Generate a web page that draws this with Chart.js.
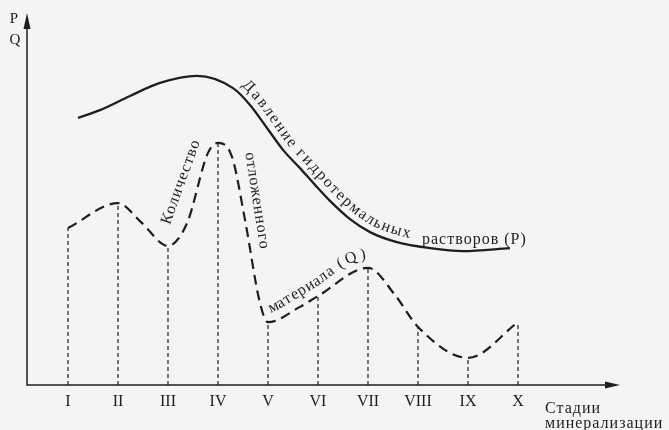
<!DOCTYPE html>
<html>
<head>
<meta charset="utf-8">
<script src="https://cdn.jsdelivr.net/npm/chart.js@4"></script>
<style>
  body { margin: 0; background: #f4f4f2; }
  canvas { display: block; }
</style>
</head>
<body>
<canvas id="myChart" width="669" height="430"></canvas>
<script>
// stages of mineralization (x = 1..10)
var stages = ['I', 'II', 'III', 'IV', 'V', 'VI', 'VII', 'VIII', 'IX', 'X'];
// Q - amount of deposited material, value at each stage
var qStage = [42.2, 48.9, 37.4, 65.1, 16.9, 23.9, 31.5, 15.6, 7.3, 16.9];
// extra points (bends)
var qBendX = [2.46, 3.38, 3.8, 4.28, 4.54, 4.84, 5.64, 7.54];
var qBendY = [43.8, 43.5, 62.4, 61.3, 44.4, 22.0, 21.0, 24.2];
// P - pressure of hydrothermal solutions
var pX = [1.2, 1.64, 2.24, 2.84, 3.58, 4.3, 4.64, 4.98, 5.3, 5.64, 5.94, 6.24, 6.64, 7.04, 7.58, 8.24, 8.9, 9.84];
var pY = [71.8, 73.9, 77.7, 81.2, 83.1, 79.8, 75.3, 69.1, 63.2, 58.3, 53.8, 49.5, 44.6, 41.1, 38.4, 36.8, 36.0, 36.8];

var ink = '#1e1e1e';
var serif = "'Liberation Serif', 'DejaVu Serif', serif";

var qData = qStage.map(function (v, i) { return { x: i + 1, y: v }; })
  .concat(qBendX.map(function (x, i) { return { x: x, y: qBendY[i] }; }))
  .sort(function (a, b) { return a.x - b.x; });
var pData = pX.map(function (x, i) { return { x: x, y: pY[i] }; });

var datasets = [
  { label: 'P', data: pData, borderColor: ink, borderWidth: 2.3, cubicInterpolationMode: 'monotone', pointRadius: 0 },
  { label: 'Q', data: qData, borderColor: ink, borderWidth: 2.2, borderDash: [10, 6], cubicInterpolationMode: 'monotone', pointRadius: 0 }
];
// dashed drop lines from Q down to the stage axis
qStage.forEach(function (v, i) {
  datasets.push({ data: [{ x: i + 1, y: 0 }, { x: i + 1, y: v }], borderColor: ink, borderWidth: 1.2, borderDash: [4, 3], pointRadius: 0 });
});

function sampleCurve(meta) {
  var pts = meta.data, out = [];
  pts.forEach(function (p, i) {
    if (i === 0) { out.push({ x: p.x, y: p.y }); return; }
    var a = pts[i - 1];
    var ax = a.cp2x ?? a.x, ay = a.cp2y ?? a.y, bx = p.cp1x ?? p.x, by = p.cp1y ?? p.y;
    for (var k = 1; k <= 20; k++) {
      var t = k / 20, u = 1 - t;
      out.push({
        x: u*u*u*a.x + 3*u*u*t*ax + 3*u*t*t*bx + t*t*t*p.x,
        y: u*u*u*a.y + 3*u*u*t*ay + 3*u*t*t*by + t*t*t*p.y
      });
    }
  });
  return out;
}

// write text letter by letter along a curve, offset to its "upper" side
function textOnPath(ctx, path, startX, text, offset, gap) {
  var cum = [0];
  for (var i = 1; i < path.length; i++) {
    cum.push(cum[i - 1] + Math.hypot(path[i].x - path[i - 1].x, path[i].y - path[i - 1].y));
  }
  function at(len) {
    var j = 1;
    while (j < path.length - 1 && cum[j] < len) j++;
    var a = path[j - 1], b = path[j];
    var f = (len - cum[j - 1]) / ((cum[j] - cum[j - 1]) || 1);
    return { x: a.x + (b.x - a.x) * f, y: a.y + (b.y - a.y) * f, ang: Math.atan2(b.y - a.y, b.x - a.x) };
  }
  var i0 = path.findIndex(function (p) { return p.x >= startX; });
  var pos = cum[i0];
  ctx.textAlign = 'center';
  ctx.textBaseline = 'alphabetic';
  for (var c = 0; c < text.length; c++) {
    var w = ctx.measureText(text[c]).width;
    var q = at(pos + w / 2);
    ctx.save();
    ctx.translate(q.x + Math.sin(q.ang) * offset, q.y - Math.cos(q.ang) * offset);
    ctx.rotate(q.ang);
    ctx.fillText(text[c], 0, 0);
    ctx.restore();
    pos += w + gap;
  }
}

function rotatedText(ctx, x, y, deg, text) {
  ctx.save();
  ctx.translate(x, y);
  ctx.rotate(deg * Math.PI / 180);
  ctx.textAlign = 'center';
  ctx.textBaseline = 'middle';
  ctx.fillText(text, 0, 0);
  ctx.restore();
}

var paper = {
  id: 'paper',
  beforeDraw: function (chart) {
    var ctx = chart.ctx;
    ctx.save();
    ctx.fillStyle = '#f4f4f2';
    ctx.fillRect(0, 0, chart.width, chart.height);
    ctx.restore();
  },
  afterDraw: function (chart) {
    var ctx = chart.ctx, a = chart.chartArea;
    var xs = chart.scales.x, ys = chart.scales.y;
    ctx.save();
    ctx.strokeStyle = ink;
    ctx.fillStyle = ink;
    ctx.lineWidth = 1.5;
    // axes with arrows
    ctx.beginPath();
    ctx.moveTo(a.left, a.top + 4);
    ctx.lineTo(a.left, a.bottom);
    ctx.lineTo(a.right + 4, a.bottom);
    ctx.stroke();
    ctx.beginPath();
    ctx.moveTo(a.left, a.top);
    ctx.lineTo(a.left - 3.5, a.top + 16);
    ctx.lineTo(a.left + 3.5, a.top + 16);
    ctx.closePath();
    ctx.fill();
    ctx.beginPath();
    ctx.moveTo(a.right + 15, a.bottom);
    ctx.lineTo(a.right, a.bottom - 3.5);
    ctx.lineTo(a.right, a.bottom + 3.5);
    ctx.closePath();
    ctx.fill();

    ctx.font = '15px ' + serif;
    ctx.textAlign = 'center';
    ctx.textBaseline = 'middle';
    ctx.fillText('P', a.left - 13, a.top + 6);
    ctx.fillText('Q', a.left - 12, a.top + 27);

    ctx.letterSpacing = '1px';
    ctx.font = '16px ' + serif;
    ctx.textAlign = 'left';
    ctx.textBaseline = 'alphabetic';
    ctx.fillText('Стадии', a.right - 60, a.bottom + 28);
    ctx.fillText('минерализации', a.right - 60, a.bottom + 43);

    // curve captions
    ctx.letterSpacing = '0px';
    ctx.font = '16px ' + serif;
    textOnPath(ctx, sampleCurve(chart.getDatasetMeta(0)), xs.getPixelForValue(4.36), 'Давление гидротермальных', 7, 2);
    textOnPath(ctx, sampleCurve(chart.getDatasetMeta(1)), xs.getPixelForValue(5.1), 'материала (Q)', 9, 1);
    ctx.letterSpacing = '1px';
    rotatedText(ctx, xs.getPixelForValue(3.26), ys.getPixelForValue(54.6), -70, 'Количество');
    rotatedText(ctx, xs.getPixelForValue(4.78), ys.getPixelForValue(49.5), 81, 'отложенного');
    ctx.textAlign = 'left';
    ctx.textBaseline = 'alphabetic';
    ctx.fillText('растворов (P)', xs.getPixelForValue(8.08), ys.getPixelForValue(37.9));
    ctx.restore();
  }
};

var options = {
  type: 'line',
  data: { datasets: datasets },
  options: {
    responsive: false,
    animation: false,
    layout: { padding: { top: 13, right: 64, left: 0, bottom: 0 } },
    plugins: { legend: { display: false }, tooltip: { enabled: false } },
    scales: {
      x: {
        type: 'linear', min: 0.18, max: 11.74,
        grid: { display: false, drawTicks: false },
        border: { display: false },
        afterBuildTicks: function (s) { s.ticks = stages.map(function (_, i) { return { value: i + 1 }; }); },
        afterFit: function (s) { s.height = 45; },
        ticks: {
          autoSkip: false, maxRotation: 0, padding: 7, color: ink,
          font: { family: serif, size: 16 },
          callback: function (v, i) { return stages[i]; }
        }
      },
      y: {
        min: 0, max: 100,
        grid: { display: false },
        border: { display: false },
        ticks: { display: false },
        afterFit: function (s) { s.width = 27; }
      }
    }
  },
  plugins: [paper]
};

var ctx = document.getElementById('myChart');
var chart = new Chart(ctx, options);
</script>
</body>
</html>
